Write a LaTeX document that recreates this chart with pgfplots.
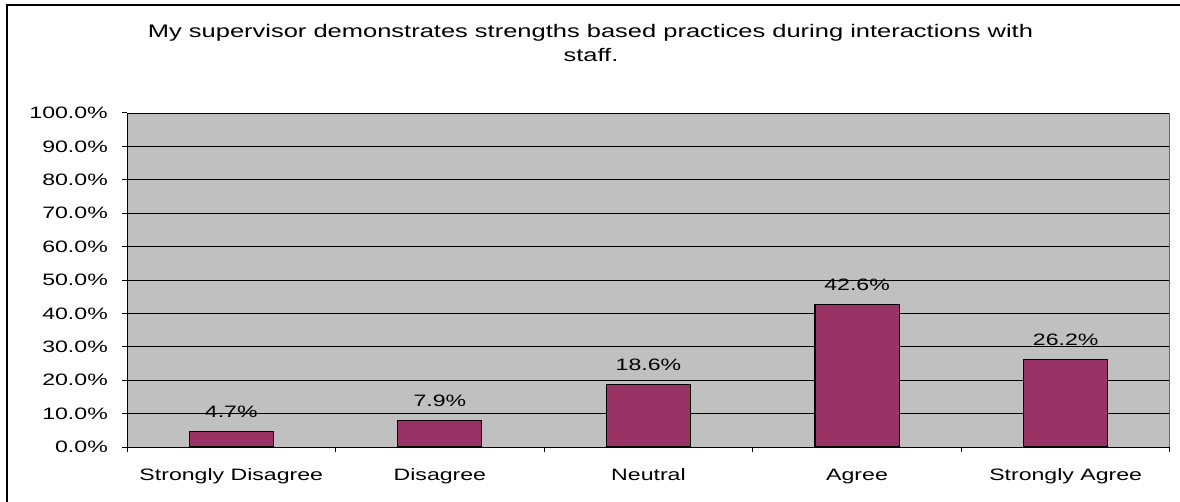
\documentclass[border=0pt]{standalone}
\usepackage{fontspec}
\setmainfont[FakeStretch=1.4]{Liberation Sans}
\usepackage{pgfplots}
\pgfplotsset{compat=1.18}
\definecolor{barc}{HTML}{993366}
\definecolor{plotbg}{HTML}{C0C0C0}
\begin{document}
\begin{tikzpicture}[x=1pt,y=1pt]
\useasboundingbox (0,0) rectangle (1180,501);
\draw[line width=1.5pt] (7,-10) -- (7,496) -- (1200,496);
\node[anchor=base, inner sep=0pt, font=\fontsize{18.2}{22}\selectfont] at (590.5,463) {My supervisor demonstrates strengths based practices during interactions with};
\node[anchor=base, inner sep=0pt, font=\fontsize{18.2}{22}\selectfont] at (591,439) {staff.};
\begin{axis}[
  at={(127pt,54pt)}, anchor=south west,
  scale only axis, width=1043pt, height=334pt,
  xmin=0.5, xmax=5.5, ymin=0, ymax=100,
  axis background/.style={fill=plotbg},
  axis x line*=bottom, axis y line*=left,
  axis line style={-, black, line width=1pt},
  /pgf/number format/assume math mode=true,
  ytick={0,10,...,100},
  yticklabel={\pgfmathprintnumber[fixed,fixed zerofill,precision=1]{\tick}\%},
  yticklabel style={anchor=east, inner sep=0pt, xshift=-14pt},
  xtick={1,2,3,4,5},
  xticklabels={Strongly Disagree,Disagree,Neutral,Agree,Strongly Agree},
  xticklabel style={anchor=base, inner sep=0pt, yshift=-28pt},
  minor xtick={0.5,1.5,2.5,3.5,4.5,5.5},
  tick align=outside,
  major tick length=5pt, minor tick length=5pt,
  x tick style={draw=none},
  y tick style={black, line width=1pt},
  minor x tick style={draw=black, line width=1pt},
  ymajorgrids,
  major grid style={black, line width=0.9pt},
  tick label style={font=\fontsize{16.5}{20}\selectfont},
  ybar, bar width=0.403,
  nodes near coords={\pgfmathprintnumber[fixed,fixed zerofill,precision=1]{\pgfplotspointmeta}\%},
  nodes near coords style={anchor=base, inner sep=0pt, yshift=14pt, font=\fontsize{16.5}{20}\selectfont, black},
  clip=false,
]
\addplot[fill=barc, draw=black, line width=1.1pt] coordinates {(1,4.7) (2,7.9) (3,18.6) (4,42.6) (5,26.2)};
\draw[color=gray!80!black, line width=1pt] (rel axis cs:1,0) -- (rel axis cs:1,1);
\end{axis}
\end{tikzpicture}
\end{document}
